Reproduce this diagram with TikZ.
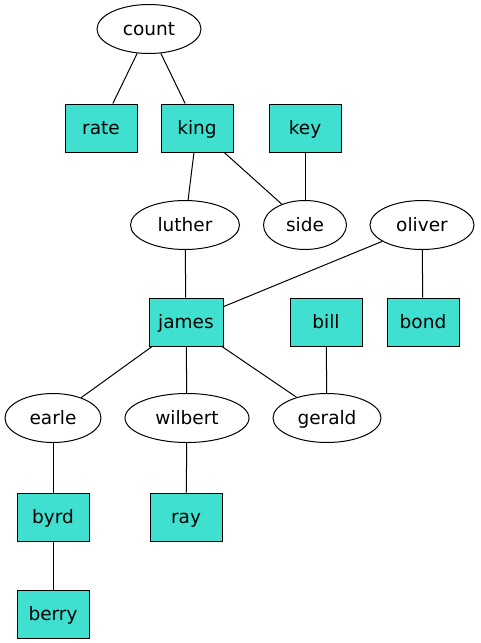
\documentclass[tikz,border=0pt]{standalone}
\usepackage{fontspec}
\setmainfont{DejaVu Sans}
\usetikzlibrary{shapes.geometric}
\definecolor{turq}{HTML}{40E0D0}
\begin{document}
\begin{tikzpicture}[x=1pt,y=-1pt,
  every node/.style={font=\fontsize{18.5}{22}\selectfont, inner sep=0pt, line width=1pt, text height=14pt, text depth=2pt},
  ell/.style={draw, ellipse, minimum height=49pt},
  bx/.style={draw, rectangle, fill=turq, minimum width=72pt, minimum height=48pt},
  edge/.style={line width=1pt}]
\useasboundingbox (0,0) rectangle (480,643);
\node[ell, minimum width=104pt] (count) at (149,29) {count};
\node[bx] (rate) at (101,128) {rate};
\node[bx] (king) at (197,128) {king};
\node[bx] (key) at (305,128) {key};
\node[ell, minimum width=109pt] (luther) at (185,225) {luther};
\node[ell, minimum width=83pt] (side) at (305,225) {side};
\node[ell, minimum width=104pt] (oliver) at (422,225) {oliver};
\node[bx, minimum width=74pt] (james) at (186,322) {james};
\node[bx] (bill) at (326,322) {bill};
\node[bx] (bond) at (423,322) {bond};
\node[ell, minimum width=96pt] (earle) at (53,418) {earle};
\node[ell, minimum width=124pt] (wilbert) at (187,418) {wilbert};
\node[ell, minimum width=108pt] (gerald) at (327,418) {gerald};
\node[bx] (byrd) at (53,517) {byrd};
\node[bx] (ray) at (186,517) {ray};
\node[bx] (berry) at (53,614) {berry};
\draw[edge] (count) -- (rate);
\draw[edge] (count) -- (king);
\draw[edge] (king) -- (luther);
\draw[edge] (king) -- (side);
\draw[edge] (key) -- (side);
\draw[edge] (luther) -- (james);
\draw[edge] (oliver) -- (james);
\draw[edge] (oliver) -- (bond);
\draw[edge] (james) -- (earle);
\draw[edge] (james) -- (wilbert);
\draw[edge] (james) -- (gerald);
\draw[edge] (bill) -- (gerald);
\draw[edge] (earle) -- (byrd);
\draw[edge] (wilbert) -- (ray);
\draw[edge] (byrd) -- (berry);
\end{tikzpicture}
\end{document}
